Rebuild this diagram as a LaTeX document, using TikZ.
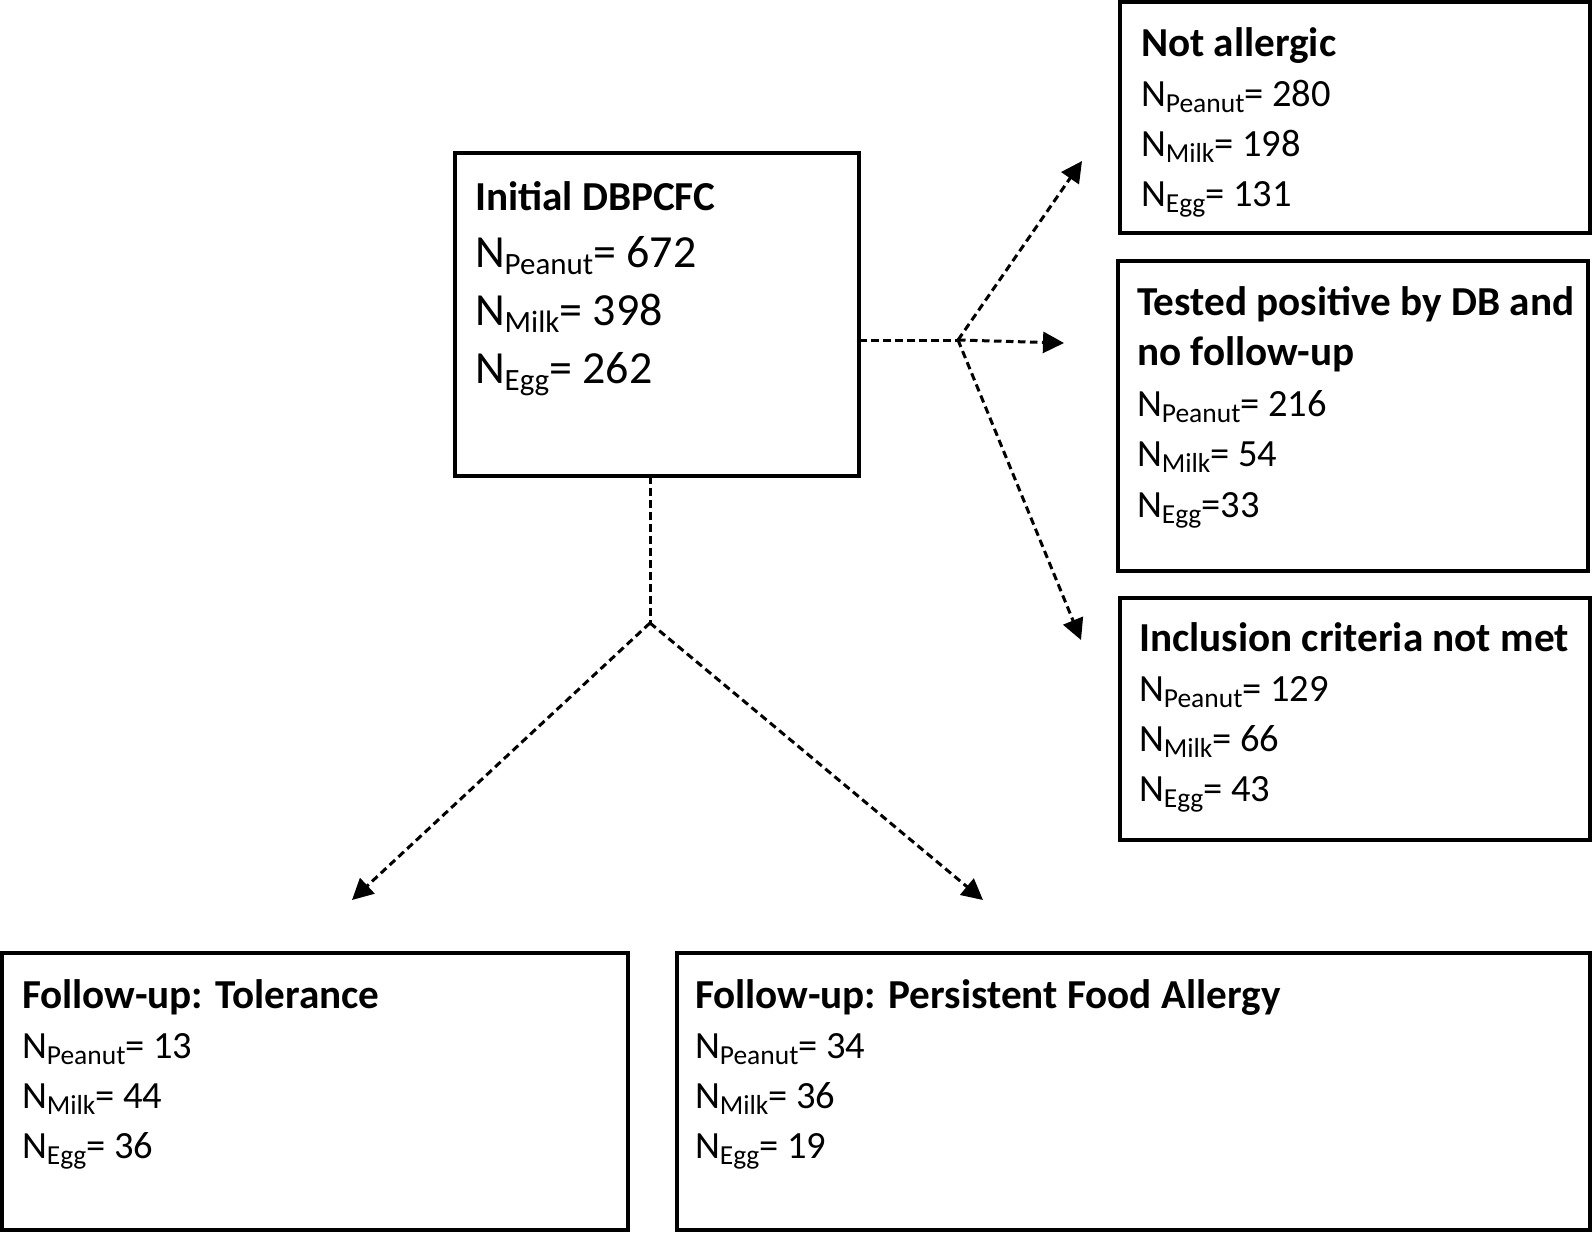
\documentclass[tikz,border=0pt]{standalone}
\usepackage{fontspec}
\setmainfont{Carlito}
\usetikzlibrary{arrows.meta}
\newcommand\subsm[1]{\raisebox{-6pt}{\fontsize{27.5}{27.5}\selectfont #1}}
\newcommand\subbg[1]{\raisebox{-7pt}{\fontsize{31}{31}\selectfont #1}}
\newcommand\ttl[1]{{\bfseries\fontsize{41.2}{50}\selectfont #1\par}}
\begin{document}
\begin{tikzpicture}[x=1pt,y=-1pt,
  box/.style={draw, line width=3.2pt, rectangle, inner sep=0pt, outer sep=0pt, anchor=north west},
  txt/.style={anchor=base west, inner sep=0pt, outer sep=0pt},
  seg/.style={line width=3pt, dash pattern=on 7.5pt off 4.5pt},
  conn/.style={seg, -{Triangle[length=21pt,width=21pt]}}]
\useasboundingbox (0,0) rectangle (1594,1232);

% boxes
\node[box, minimum width=404pt, minimum height=323pt] (init) at (455,153) {};
\node[box, minimum width=470pt, minimum height=231pt] (notall) at (1120,2) {};
\node[box, minimum width=470pt, minimum height=310pt] (tested) at (1118,261) {};
\node[box, minimum width=470pt, minimum height=242pt] (incl) at (1120,598) {};
\node[box, minimum width=626pt, minimum height=277pt] (tol) at (2,953) {};
\node[box, minimum width=913pt, minimum height=277pt] (pers) at (677,953) {};

% texts
\node[txt] (initT) at (475,210) {\parbox[t]{380pt}{\fontsize{46}{57.7}\selectfont
  {\bfseries\fontsize{41.2}{57.7}\selectfont Initial DBPCFC\par}
  N\subbg{Peanut}= 672\par
  N\subbg{Milk}= 398\par
  N\subbg{Egg}= 262\par}};
\node[txt] (notallT) at (1141,56) {\parbox[t]{440pt}{\fontsize{38.5}{50}\selectfont
  \ttl{Not allergic}
  N\subsm{Peanut}= 280\par
  N\subsm{Milk}= 198\par
  N\subsm{Egg}= 131\par}};
\node[txt] (testedT) at (1137,315) {\parbox[t]{460pt}{\fontsize{38.5}{50.5}\selectfont
  {\bfseries\fontsize{41.2}{50.5}\selectfont Tested positive by DB and\par
  no follow-up\par}
  N\subsm{Peanut}= 216\par
  N\subsm{Milk}= 54\par
  N\subsm{Egg}=33\par}};
\node[txt] (inclT) at (1139,651) {\parbox[t]{450pt}{\fontsize{38.5}{50.3}\selectfont
  {\bfseries\fontsize{41.2}{50.3}\selectfont Inclusion criteria not met\par}
  N\subsm{Peanut}= 129\par
  N\subsm{Milk}= 66\par
  N\subsm{Egg}= 43\par}};
\node[txt] (tolT) at (22,1008) {\parbox[t]{600pt}{\fontsize{38.5}{50}\selectfont
  \ttl{Follow-up: Tolerance}
  N\subsm{Peanut}= 13\par
  N\subsm{Milk}= 44\par
  N\subsm{Egg}= 36\par}};
\node[txt] (persT) at (695,1008) {\parbox[t]{880pt}{\fontsize{38.5}{50}\selectfont
  \ttl{Follow-up: Persistent Food Allergy}
  N\subsm{Peanut}= 34\par
  N\subsm{Milk}= 36\par
  N\subsm{Egg}= 19\par}};

% junctions and arrow ends
\coordinate (J1) at (650,623);
\coordinate (J2) at (958,340);
\coordinate (tipL) at (352,900);
\coordinate (tipR) at (983,900);
\coordinate (tipA) at (1082,161);
\coordinate (tipB) at (1064,343);
\coordinate (tipC) at (1081,640);

% connectors
\draw[seg] (init.south -| J1) -- (J1);
\draw[conn] (J1) -- (tipL);
\draw[conn] (J1) -- (tipR);
\draw[seg] (init.east |- J2) -- (J2);
\draw[conn] (J2) -- (tipA);
\draw[conn] (J2) -- (tipB);
\draw[conn] (J2) -- (tipC);
\end{tikzpicture}
\end{document}
